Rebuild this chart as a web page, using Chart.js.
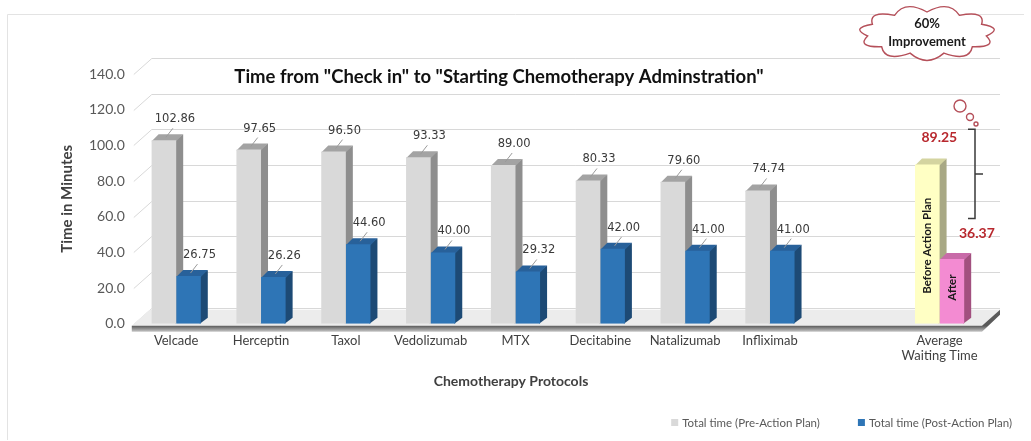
<!DOCTYPE html>
<html>
<head>
<meta charset="utf-8">
<script src="https://cdn.jsdelivr.net/npm/chart.js@4.4.1/dist/chart.umd.min.js"></script>
<style>
  html, body { margin: 0; padding: 0; background: #fff; }
  #wrap { width: 1031px; height: 441px; position: relative; }
</style>
</head>
<body>
<div id="wrap"><canvas id="chemo"></canvas></div>
<script>
const protocols = ['Velcade', 'Herceptin', 'Taxol', 'Vedolizumab', 'MTX', 'Decitabine', 'Natalizumab', 'Infliximab', '', ['Average', 'Waiting Time']];
const preActionTimes = [102.86, 97.65, 96.50, 93.33, 89.00, 80.33, 79.60, 74.74, null, 89.25];
const postActionTimes = [26.75, 26.26, 44.60, 40.00, 29.32, 42.00, 41.00, 41.00, null, 36.37];
const yTicks = [0, 20, 40, 60, 80, 100, 120, 140];
const seriesNames = ['Total time (Pre-Action Plan)', 'Total time (Post-Action Plan)'];
const averageIndex = 9;
const averageNames = ['Before Action Plan', 'After'];
const improvementText = ['60%', 'Improvement'];

const chartTitle = 'Time from "Check in" to "Starting Chemotherapy Adminstration"';
const xTitle = 'Chemotherapy Protocols';

// front / side / top colours for the fake 3d look
const faces = {
    gray:   ['#d9d9d9', '#8e8e8e', '#a3a3a3'],
    blue:   ['#2e75b6', '#1d4a75', '#28619a'],
    yellow: ['#ffffc4', '#a8a884', '#d4d4a0'],
    pink:   ['#f38bd2', '#a2507f', '#c86aa8']
};
const faceKey = (dsIndex, i) => dsIndex === 0
    ? (i === averageIndex ? 'yellow' : 'gray')
    : (i === averageIndex ? 'pink' : 'blue');

const DX = 7, DY = 6;          // bar depth
const WX = 18, WY = 16;        // wall depth

const fakeThreeD = {
    id: 'fakeThreeD',
    beforeDraw (chart) {
        const ctx = chart.ctx;
        ctx.save();
        ctx.strokeStyle = '#e3e3e3';
        ctx.lineWidth = 1;
        ctx.beginPath();
        ctx.moveTo(7.5, 440);
        ctx.lineTo(7.5, 14.5);
        ctx.lineTo(1024, 14.5);
        ctx.stroke();
        ctx.restore();
    },
    beforeDatasetsDraw (chart) {
        const { ctx, chartArea: area, scales: { y } } = chart;
        ctx.save();
        // back wall gridlines
        ctx.strokeStyle = '#d8d8d8';
        ctx.lineWidth = 1;
        yTicks.forEach(v => {
            const py = Math.round(y.getPixelForValue(v)) + 0.5;
            ctx.beginPath();
            ctx.moveTo(area.left, py);
            ctx.lineTo(area.left + WX, py - WY);
            ctx.lineTo(area.right + WX, py - WY);
            ctx.stroke();
        });
        // floor
        const b = y.getPixelForValue(0);
        ctx.fillStyle = '#ececec';
        ctx.beginPath();
        ctx.moveTo(area.left - 2, b + 2);
        ctx.lineTo(area.left - 2 + WX, b + 2 - WY);
        ctx.lineTo(area.right + WX, b + 2 - WY);
        ctx.lineTo(area.right, b + 2);
        ctx.closePath();
        ctx.fill();
        const g = ctx.createLinearGradient(0, b + 2, 0, b + 8);
        g.addColorStop(0, '#5a5a5a');
        g.addColorStop(1, '#c8c8c8');
        ctx.fillStyle = g;
        ctx.beginPath();
        ctx.moveTo(area.left - 2, b + 2);
        ctx.lineTo(area.right, b + 2);
        ctx.lineTo(area.right + WX, b + 2 - WY);
        ctx.lineTo(area.right + WX, b + 7 - WY);
        ctx.lineTo(area.right, b + 8);
        ctx.lineTo(area.left - 2, b + 8);
        ctx.closePath();
        ctx.fill();

        // side and top faces of every bar; the fronts are drawn over them
        chart.data.datasets.forEach((ds, dsIndex) => {
            chart.getDatasetMeta(dsIndex).data.forEach((bar, i) => {
                if (ds.data[i] === null) return;
                const { x, y: top, base, width } = bar.getProps(['x', 'y', 'base', 'width'], true);
                const c = faces[faceKey(dsIndex, i)];
                const l = x - width / 2, r = x + width / 2;
                ctx.fillStyle = c[1];
                ctx.beginPath();
                ctx.moveTo(r - 1, top);
                ctx.lineTo(r + DX, top - DY);
                ctx.lineTo(r + DX, base - DY);
                ctx.lineTo(r - 1, base);
                ctx.closePath();
                ctx.fill();
                ctx.fillStyle = c[2];
                ctx.beginPath();
                ctx.moveTo(l, top + 1);
                ctx.lineTo(l + DX, top - DY);
                ctx.lineTo(r + DX, top - DY);
                ctx.lineTo(r, top + 1);
                ctx.closePath();
                ctx.fill();
            });
        });
        ctx.restore();
    },
    afterDatasetsDraw (chart) {
        const ctx = chart.ctx;
        ctx.save();
        chart.data.datasets.forEach((ds, dsIndex) => {
            const meta = chart.getDatasetMeta(dsIndex);
            meta.data.forEach((bar, i) => {
                const v = ds.data[i];
                if (v === null || v === undefined) return;
                const { x, y, base } = bar.getProps(['x', 'y', 'base'], true);
                ctx.textAlign = 'center';
                ctx.textBaseline = 'middle';
                if (i === averageIndex) {
                    ctx.fillStyle = '#b8282e';
                    ctx.font = 'bold 14px Lato';
                    if (dsIndex === 0) ctx.fillText(v.toFixed(2), x + 12, y - 27);
                    else ctx.fillText(v.toFixed(2), x + 25, y - 25);
                    // rotated names inside the bars
                    ctx.save();
                    ctx.translate(x, base - (dsIndex === 0 ? 30 : 23));
                    ctx.rotate(-Math.PI / 2);
                    ctx.textAlign = 'left';
                    ctx.fillStyle = '#1a1a1a';
                    ctx.font = 'bold 11.5px Lato';
                    ctx.fillText(averageNames[dsIndex], 0, 0);
                    ctx.restore();
                } else {
                    ctx.strokeStyle = '#9a9a9a';
                    ctx.lineWidth = 1;
                    ctx.beginPath();
                    ctx.moveTo(x + 2, y - 3);
                    ctx.lineTo(x + 9, y - 12);
                    ctx.stroke();
                    ctx.fillStyle = '#3a3a3a';
                    ctx.font = '11.5px "DejaVu Sans"';
                    ctx.fillText(v.toFixed(2), x + 11, y - 21);
                }
            });
        });
        ctx.restore();
    },
    afterDraw (chart) {
        const { ctx, chartArea: area, scales: { y } } = chart;
        ctx.save();
        ctx.textAlign = 'center';
        ctx.textBaseline = 'middle';

        // title
        ctx.fillStyle = '#111';
        ctx.font = 'bold 18.5px Lato';
        ctx.fillText(chartTitle, 499, 77);

        // x axis title, sitting under the protocols rather than the full axis
        ctx.fillStyle = '#404040';
        ctx.font = 'bold 14px Lato';
        ctx.fillText(xTitle, 511, 381);

        // thought cloud
        const cx = area.right - 55, cy = 33, rx = 60, ry = 21, n = 11;
        ctx.beginPath();
        for (let k = 0; k <= n; k++) {
            const a = -Math.PI / 2 + k * 2 * Math.PI / n;
            const px = cx + rx * Math.cos(a), py = cy + ry * Math.sin(a);
            if (k === 0) { ctx.moveTo(px, py); continue; }
            const am = a - Math.PI / n;
            ctx.quadraticCurveTo(cx + rx * 1.3 * Math.cos(am), cy + ry * 1.65 * Math.sin(am), px, py);
        }
        ctx.closePath();
        ctx.fillStyle = '#fff';
        ctx.fill();
        ctx.strokeStyle = '#b5505a';
        ctx.lineWidth = 1.4;
        ctx.stroke();
        [[cx + 33, 106, 6], [cx + 43, 117, 3.5], [cx + 49, 124, 2]].forEach(([bx, by, br]) => {
            ctx.beginPath();
            ctx.arc(bx, by, br, 0, Math.PI * 2);
            ctx.stroke();
        });
        ctx.fillStyle = '#1a1a1a';
        ctx.font = 'bold 13px Lato';
        ctx.fillText(improvementText[0], cx, cy - 9);
        ctx.fillText(improvementText[1], cx, cy + 9);

        // bracket between before and after
        const bx = area.right - 7;
        const top = y.getPixelForValue(109), bot = y.getPixelForValue(59);
        ctx.strokeStyle = '#3a3a3a';
        ctx.lineWidth = 1.5;
        ctx.beginPath();
        ctx.moveTo(bx - 7, top);
        ctx.lineTo(bx, top);
        ctx.lineTo(bx, bot);
        ctx.lineTo(bx - 7, bot);
        ctx.moveTo(bx, (top + bot) / 2);
        ctx.lineTo(bx + 8, (top + bot) / 2);
        ctx.stroke();

        // legend, right aligned
        ctx.font = '11.5px Lato';
        ctx.textAlign = 'left';
        const items = chart.data.datasets.map((ds, i) => ({ text: ds.label, color: faces[faceKey(i, 0)][0] }));
        const gap = 38;
        const total = items.reduce((s, it) => s + 11 + ctx.measureText(it.text).width, 0) + gap;
        let lx = 1012 - total;
        items.forEach(it => {
            ctx.fillStyle = it.color;
            ctx.fillRect(lx, 419, 7, 7);
            ctx.fillStyle = '#595959';
            ctx.fillText(it.text, lx + 11, 423);
            lx += 11 + ctx.measureText(it.text).width + gap;
        });
        ctx.restore();
    }
};

new Chart(document.getElementById('chemo'), {
    type: 'bar',
    data: {
        labels: protocols,
        datasets: [
            {
                label: seriesNames[0],
                data: preActionTimes,
                backgroundColor: ctx => faces[faceKey(0, ctx.dataIndex)][0]
            },
            {
                label: seriesNames[1],
                data: postActionTimes,
                backgroundColor: ctx => faces[faceKey(1, ctx.dataIndex)][0]
            }
        ]
    },
    options: {
        responsive: true,
        maintainAspectRatio: false,
        animation: false,
        categoryPercentage: 0.58,
        barPercentage: 1,
        layout: { padding: { left: 58, top: 74, right: 49, bottom: 68 } },
        plugins: {
            legend: { display: false },
            title: { display: false },
            tooltip: { enabled: false }
        },
        scales: {
            x: {
                grid: { display: false, drawTicks: false },
                border: { display: false },
                ticks: { color: '#404040', font: { family: 'Lato', size: 13 }, padding: 9, maxRotation: 0, autoSkip: false }
            },
            y: {
                min: 0,
                max: 140,
                grid: { display: false, drawTicks: false },
                border: { display: false },
                afterBuildTicks: axis => { axis.ticks = yTicks.map(v => ({ value: v })); },
                ticks: { color: '#595959', font: { family: 'Lato', size: 14 }, padding: 9, callback: v => v.toFixed(1) },
                title: { display: true, text: 'Time in Minutes', color: '#404040', font: { family: 'Lato', size: 15, weight: 'bold' }, padding: { top: 0, bottom: 4 } }
            }
        }
    },
    plugins: [fakeThreeD]
});
</script>
</body>
</html>
